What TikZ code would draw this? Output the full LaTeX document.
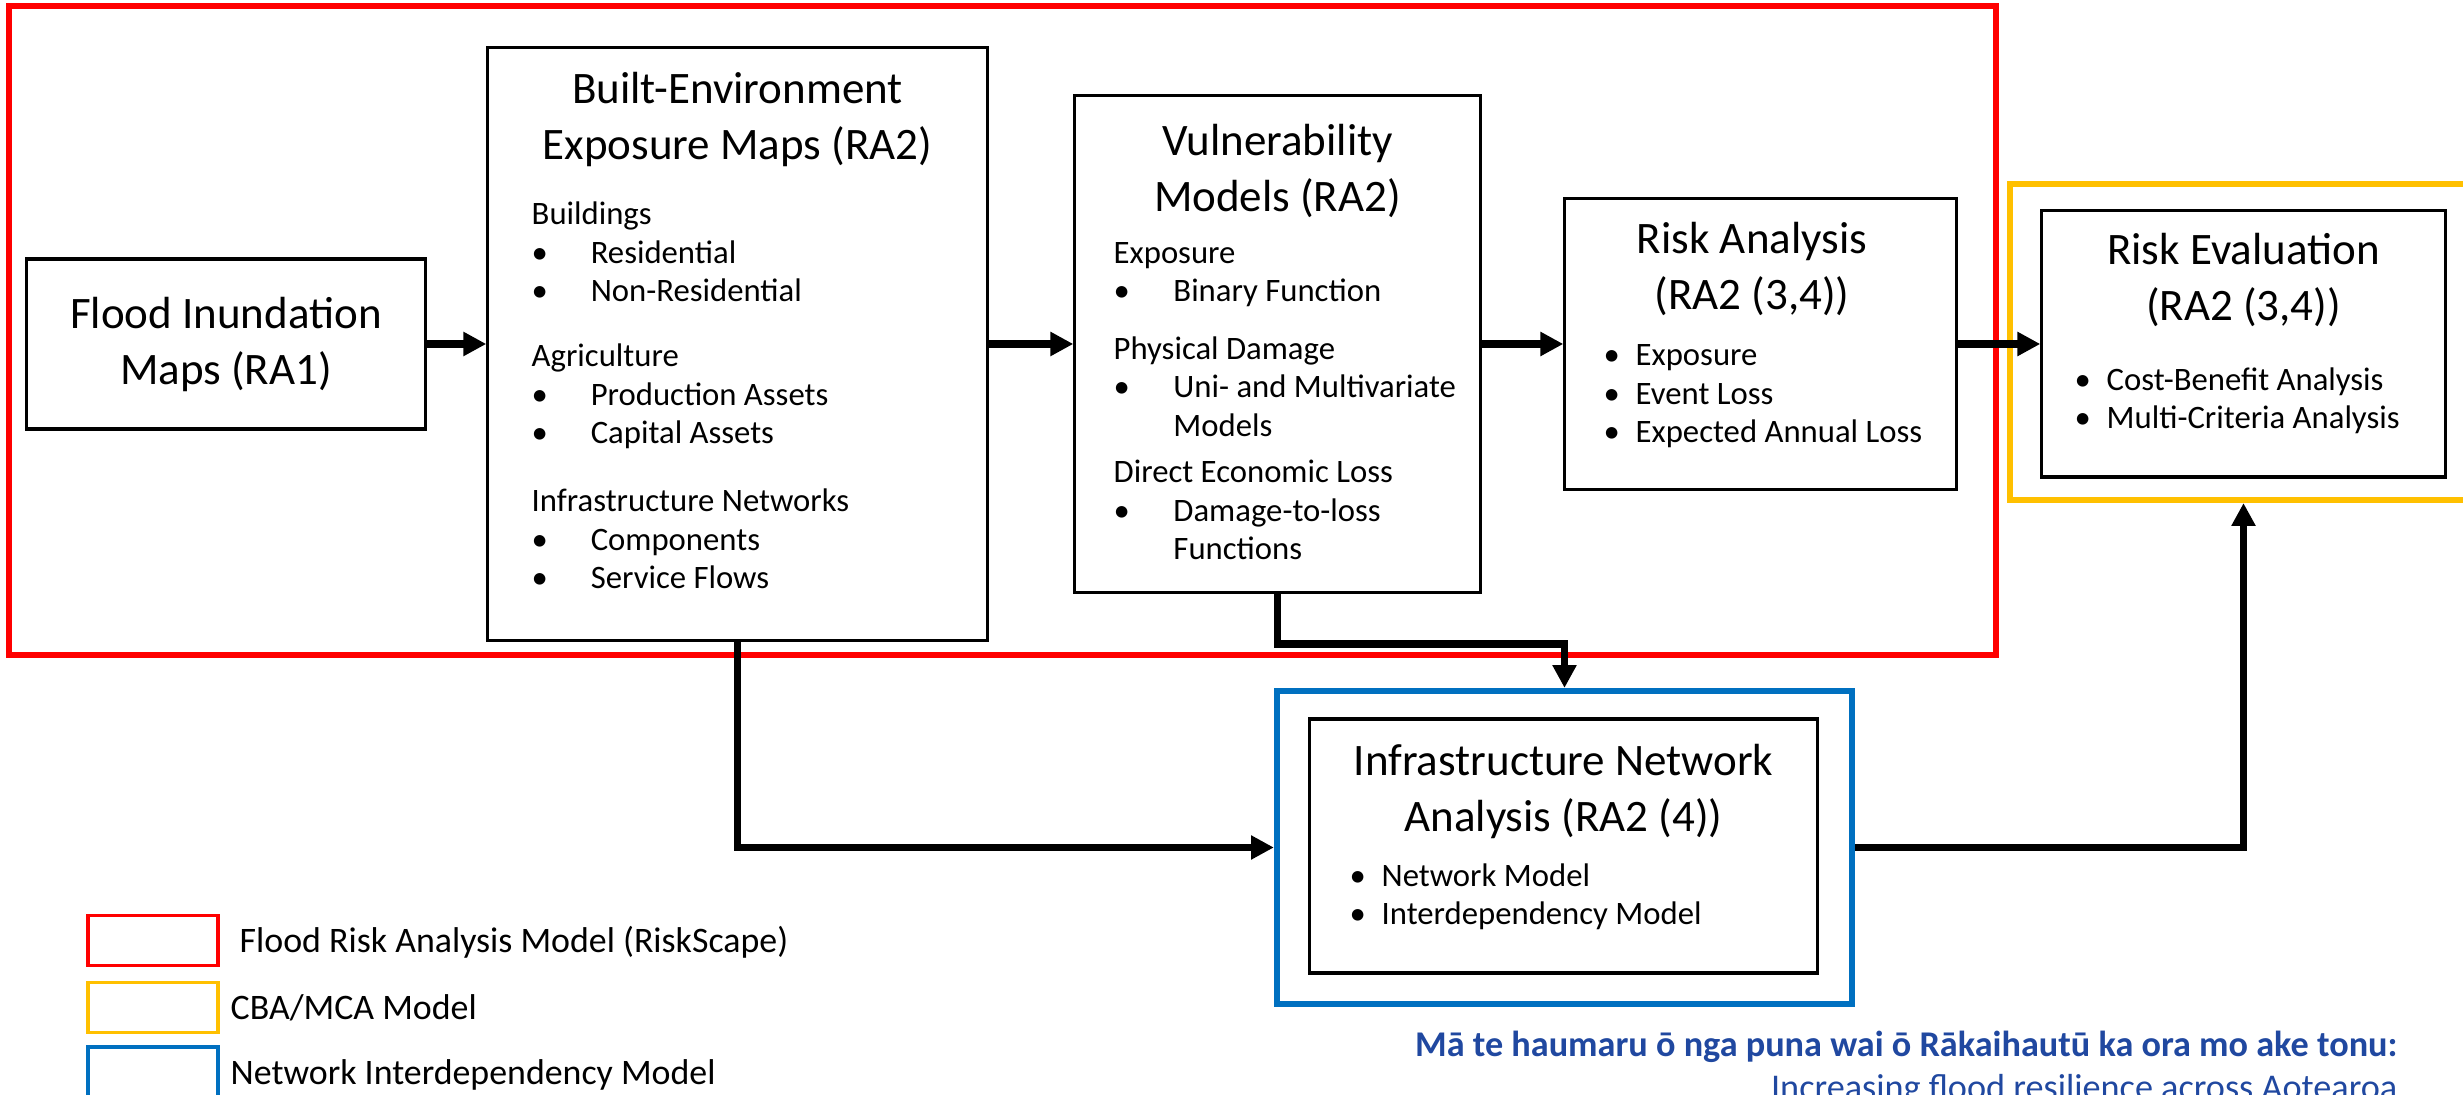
\documentclass[tikz,border=0pt]{standalone}
\usepackage{fontspec}
\setmainfont{Carlito}
\usetikzlibrary{arrows.meta}
\definecolor{rsred}{RGB}{255,0,0}
\definecolor{cbayellow}{RGB}{255,192,0}
\definecolor{nimblue}{RGB}{0,112,192}
\definecolor{tagblue}{RGB}{32,72,160}
\newcommand{\bul}[2]{\makebox[#1][l]{\textbullet}#2}
\begin{document}
\begin{tikzpicture}[x=0.01cm,y=-0.01cm,
  box/.style={draw=black,line width=0.9pt,inner sep=0pt},
  zone/.style={line width=1.7pt,inner sep=0pt},
  keybox/.style={line width=0.9pt,inner sep=0pt,minimum width=1.30cm,minimum height=0.50cm},
  title/.style={font=\fontsize{12.8}{16.2}\selectfont,align=center,anchor=base,inner sep=0pt},
  body/.style={font=\fontsize{9.3}{10.95}\selectfont,align=left,anchor=base west,inner sep=0pt},
  keytext/.style={font=\fontsize{10.2}{12}\selectfont,anchor=base west,inner sep=0pt},
  flow/.style={line width=2.2pt,-{Triangle[length=6.5pt,width=6.5pt]}}]
  \useasboundingbox (0,0) rectangle (2463,1095);
  \node[zone,draw=rsred,minimum width=19.85cm,minimum height=6.49cm] (riskscape) at (1002.5,330.5) {};
  \node[zone,draw=cbayellow,minimum width=4.67cm,minimum height=3.16cm] (cba) at (2243.5,342) {};
  \node[zone,draw=nimblue,minimum width=5.75cm,minimum height=3.13cm] (nim) at (1564.5,847.5) {};
  \node[box,minimum width=3.98cm,minimum height=1.70cm] (flood) at (226,344) {};
  \node[box,minimum width=4.99cm,minimum height=5.92cm] (bem) at (737.5,344) {};
  \node[box,minimum width=4.05cm,minimum height=4.97cm] (vuln) at (1277.5,344) {};
  \node[box,minimum width=3.91cm,minimum height=2.91cm] (risk) at (1760.5,344) {};
  \node[box,minimum width=4.03cm,minimum height=2.66cm] (eval) at (2243.5,344) {};
  \node[box,minimum width=5.07cm,minimum height=2.54cm] (ina) at (1563.5,846) {};
  \node[title] (floodT) at (226,385) {Flood Inundation\\Maps (RA1)};
  \node[title] (bemT) at (737.5,160) {Built-Environment\\Exposure Maps (RA2)};
  \node[title] (vulnT) at (1277.5,212) {Vulnerability\\Models (RA2)};
  \node[title] (riskT) at (1752,310) {Risk Analysis\\(RA2 (3,4))};
  \node[title] (evalT) at (2243.5,321) {Risk Evaluation\\(RA2 (3,4))};
  \node[title] (inaT) at (1563.5,832) {Infrastructure Network\\Analysis (RA2 (4))};
  \node[body] (bemB) at (531,589) {Buildings\\
    \bul{16.8pt}{Residential}\\
    \bul{16.8pt}{Non-Residential}\\[7.5pt]
    Agriculture\\
    \bul{16.8pt}{Production Assets}\\
    \bul{16.8pt}{Capital Assets}\\[8.5pt]
    Infrastructure Networks\\
    \bul{16.8pt}{Components}\\
    \bul{16.8pt}{Service Flows}};
  \node[body] (vulnB) at (1113,560) {Exposure\\
    \bul{17pt}{Binary Function}\\[5.5pt]
    Physical Damage\\
    \bul{17pt}{Uni- and Multivariate}\\
    \hspace*{17pt}Models\\[2.3pt]
    Direct Economic Loss\\
    \bul{17pt}{Damage-to-loss}\\
    \hspace*{17pt}Functions};
  \node[body] (riskB) at (1603,443) {\bul{9.1pt}{Exposure}\\
    \bul{9.1pt}{Event Loss}\\
    \bul{9.1pt}{Expected Annual Loss}};
  \node[body] (evalB) at (2074,429) {\bul{9.1pt}{Cost-Benefit Analysis}\\
    \bul{9.1pt}{Multi-Criteria Analysis}};
  \node[body] (inaB) at (1349,925) {\bul{9.1pt}{Network Model}\\
    \bul{9.1pt}{Interdependency Model}};
  \draw[flow] (flood.east) -- (bem.west);
  \draw[flow] (bem.east) -- (vuln.west);
  \draw[flow] (vuln.east) -- (risk.west);
  \draw[flow] (risk.east) -- (eval.west);
  \draw[flow] (bem.south) |- (nim.west);
  \draw[flow] (vuln.south) -- ++(0,50) -| (nim.north);
  \draw[flow] (nim.east) -| (eval.south |- cba.south);
  \node[keybox,draw=rsred] (keyrisk) at (153,940.5) {};
  \node[keybox,draw=cbayellow] (keycba) at (153,1007.5) {};
  \node[keybox,draw=nimblue] (keynim) at (153,1072) {};
  \node[keytext] (keyriskT) at (239,953) {Flood Risk Analysis Model (RiskScape)};
  \node[keytext] (keycbaT) at (230,1020) {CBA/MCA Model};
  \node[keytext] (keynimT) at (230,1085) {Network Interdependency Model};
  \node[anchor=base east,inner sep=0pt,text=tagblue,font=\fontsize{10.3}{12}\bfseries\selectfont] (tagmi) at (2398,1057) {Mā te haumaru ō nga puna wai ō Rākaihautū ka ora mo ake tonu:};
  \node[anchor=base east,inner sep=0pt,text=tagblue,font=\fontsize{10.3}{12}\selectfont] (tagen) at (2398,1100) {Increasing flood resilience across Aotearoa};
\end{tikzpicture}
\end{document}
